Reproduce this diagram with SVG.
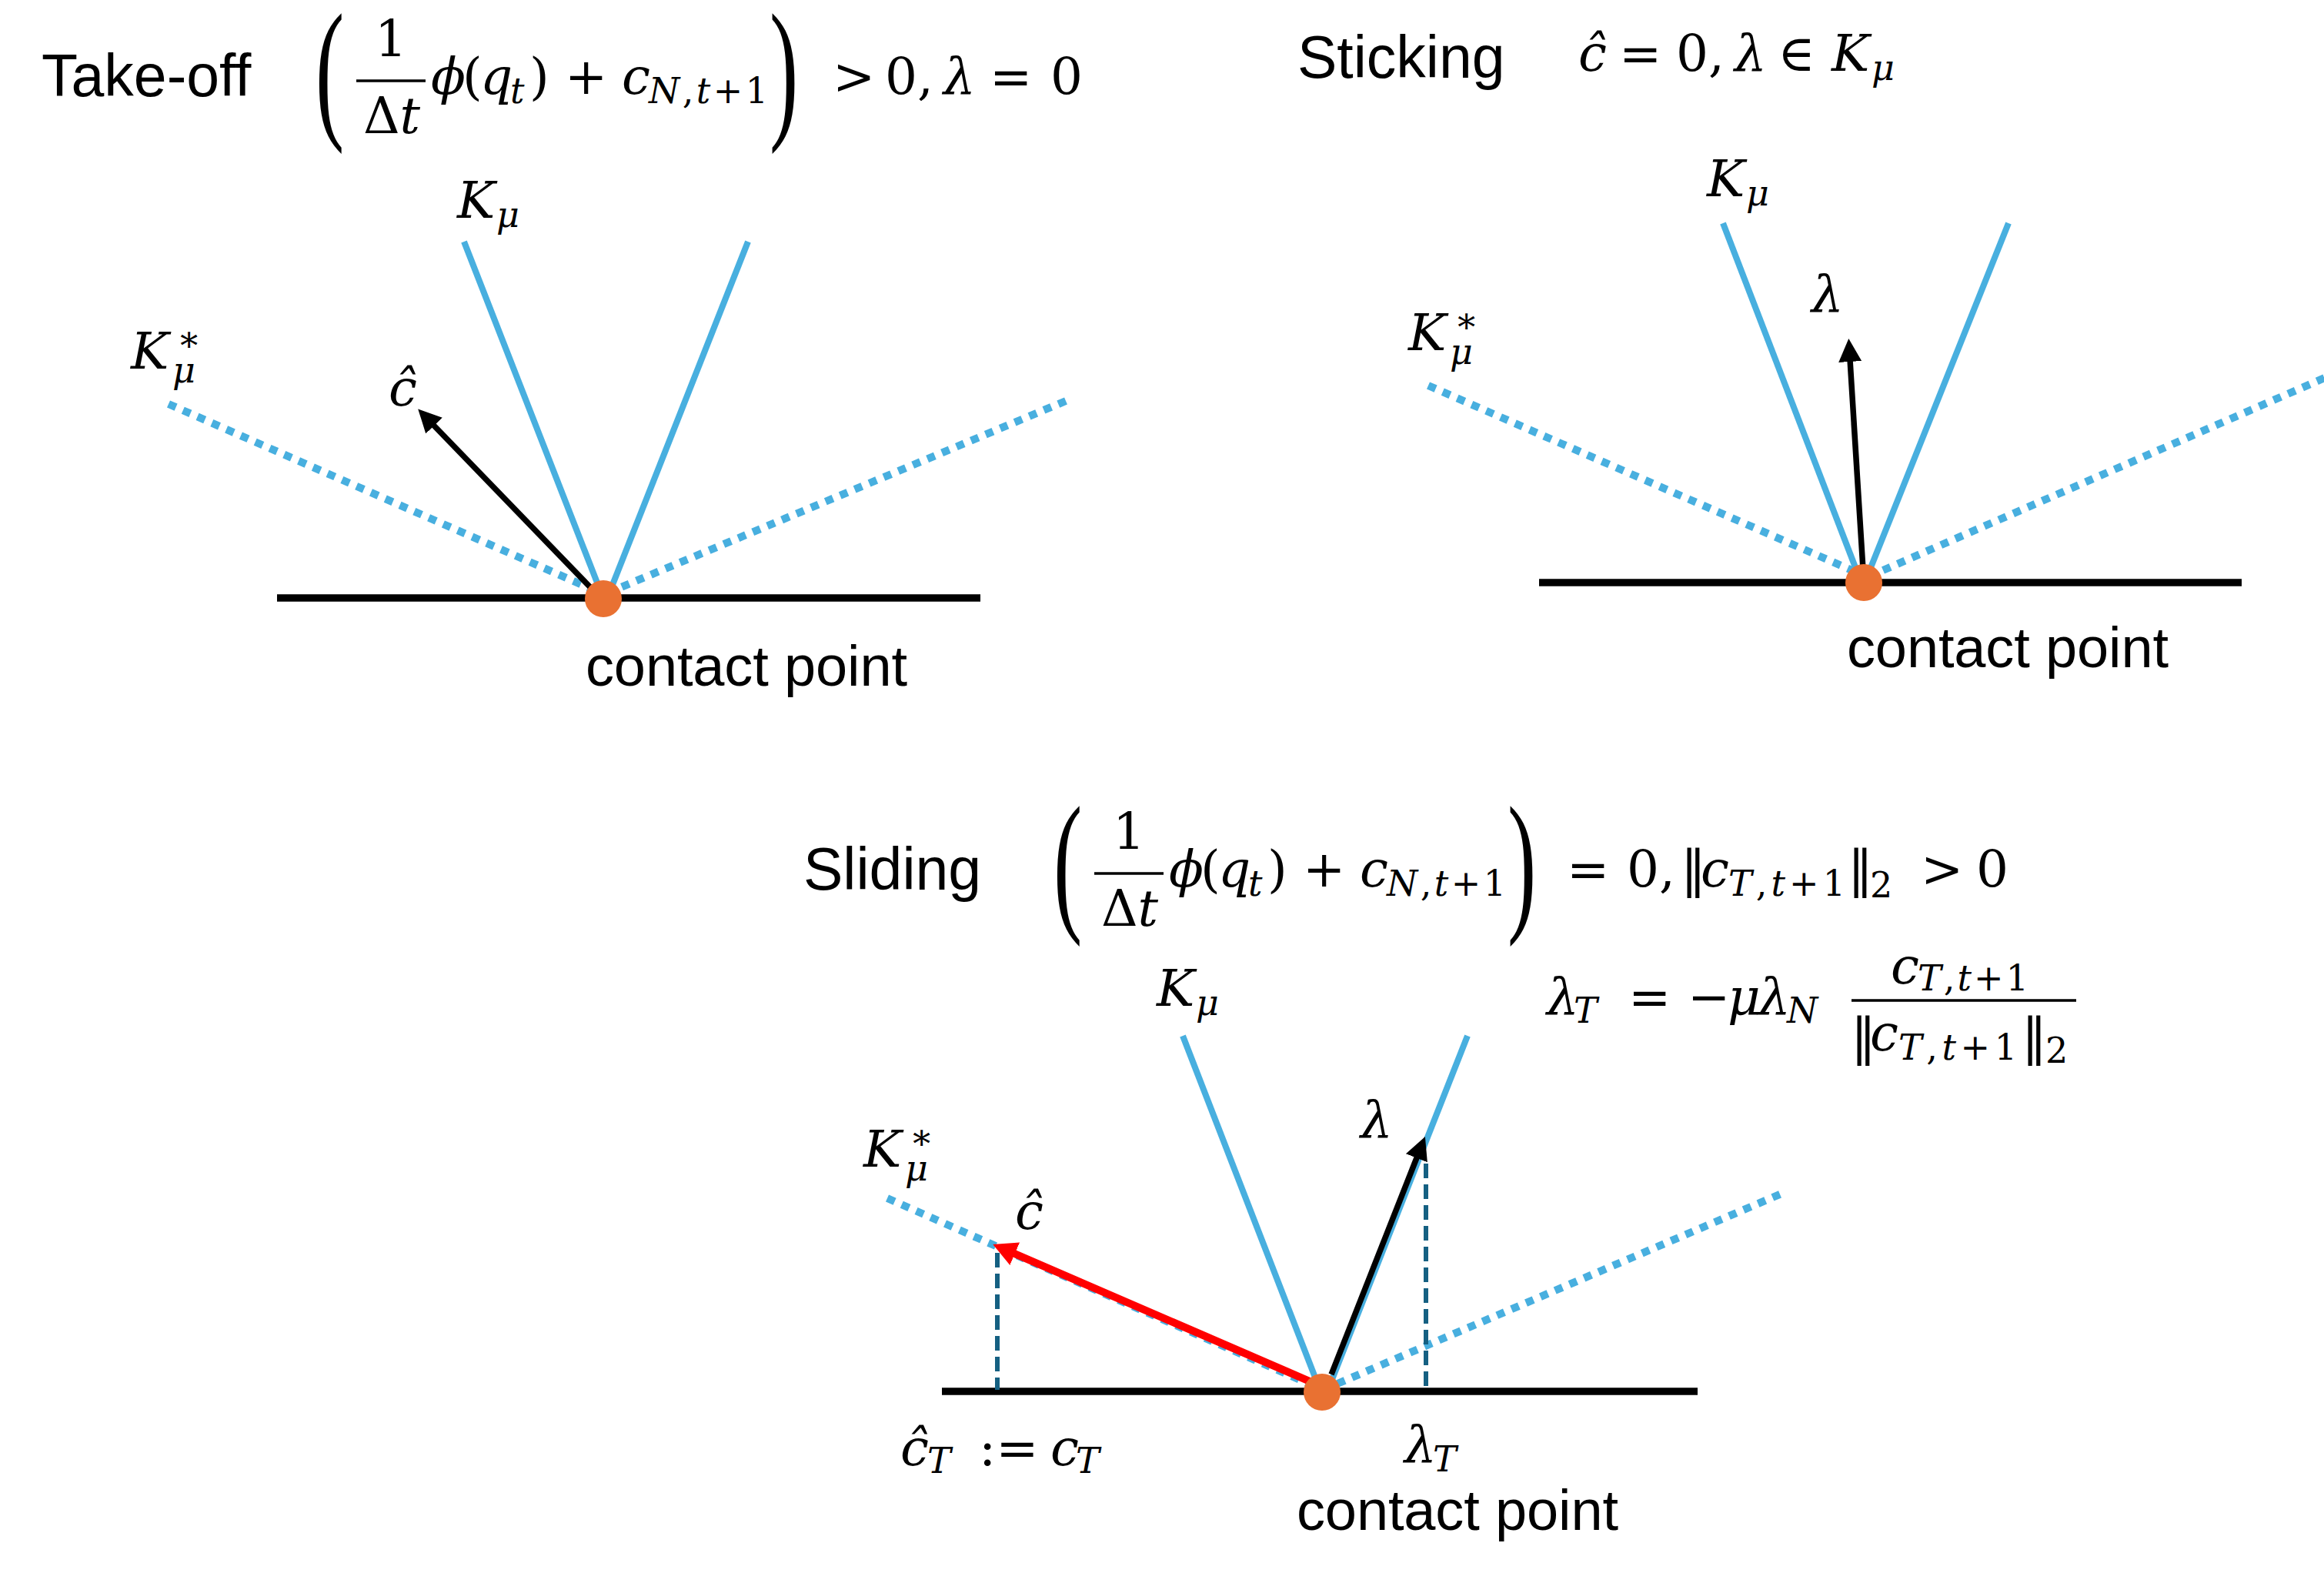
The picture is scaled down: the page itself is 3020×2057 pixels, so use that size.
<svg xmlns="http://www.w3.org/2000/svg" width="3020" height="2057" viewBox="0 0 3020 2057">
<defs>
<style>
.sans{font-family:"Liberation Sans",Arial,sans-serif;font-size:77px;fill:#000}
.cp{font-family:"Liberation Sans",Arial,sans-serif;font-size:74px;fill:#000}
.m{font-family:"DejaVu Serif","Liberation Serif",serif;font-size:66px;fill:#000}
.p{font-family:"Liberation Serif","DejaVu Serif",serif;font-size:70px;fill:#000}
.s{font-size:46px}
.i{font-style:italic}
.ground{stroke:#000;stroke-width:9.5;fill:none}
.cone{stroke:#48AFDF;stroke-width:8;fill:none}
.dual{stroke:#48AFDF;stroke-width:10;stroke-dasharray:10.5 10;fill:none}
.vec{stroke:#000;stroke-width:7.5;fill:none}
.red{stroke:#FF0000;stroke-width:10;fill:none}
.proj{stroke:#156082;stroke-width:6;stroke-dasharray:19 8;fill:none}
.bar{stroke:#000;stroke-width:3.5}
.dot{fill:#E97132}
</style>
<marker id="ah" markerUnits="userSpaceOnUse" markerWidth="34" markerHeight="34" viewBox="0 -17 34 34" refX="3" refY="0" orient="auto"><path d="M0,-15 L30,0 L0,15 z" fill="#000"/></marker>
<marker id="ahr" markerUnits="userSpaceOnUse" markerWidth="36" markerHeight="36" viewBox="0 -18 36 36" refX="3" refY="0" orient="auto"><path d="M0,-16 L31,0 L0,16 z" fill="#FF0000"/></marker>
</defs>
<rect width="3020" height="2057" fill="#fff"/>

<!-- Panel 1: Take-off -->
<g id="takeoff">
<text class="sans" x="54" y="125">Take-off</text>
<g id="takeoff-formula" class="m">
<text class="p" transform="translate(410,156.5) scale(1.6,2.87)">(</text>
<text x="508" y="73" text-anchor="middle">1</text>
<line class="bar" x1="463" y1="105" x2="553" y2="105"/>
<text x="509" y="173" text-anchor="middle">Δ<tspan class="i">t</tspan></text>
<text y="122"><tspan class="i" x="560">ϕ</tspan><tspan x="601">(</tspan><tspan class="i" x="624">q</tspan><tspan class="i s" x="663" y="134">t</tspan><tspan x="688" y="122">)</tspan><tspan x="734">+</tspan><tspan class="i" x="808">c</tspan></text>
<text class="s" x="843" y="134" textLength="155"><tspan class="i">N</tspan>,<tspan class="i">t</tspan>+1</text>
<text class="p" transform="translate(1000,156.5) scale(1.6,2.87)">)</text>
<text y="122"><tspan x="1082">&gt;</tspan><tspan x="1150">0,</tspan><tspan class="i" x="1226">λ</tspan><tspan x="1286">=</tspan><tspan x="1365">0</tspan></text>
</g>
<line class="ground" x1="360" y1="777" x2="1274" y2="777"/>
<line class="dual" x1="219" y1="525" x2="775" y2="768"/>
<line class="dual" x1="1385" y1="521" x2="800" y2="766"/>
<line class="cone" x1="603" y1="314" x2="781" y2="770"/>
<line class="cone" x1="972" y1="314" x2="792" y2="770"/>
<line class="vec" x1="767" y1="763" x2="562" y2="551" marker-end="url(#ah)"/>
<circle class="dot" cx="784" cy="778" r="24"/>
<text class="m i"><tspan x="594" y="283">K</tspan><tspan class="s" x="645" y="295">μ</tspan></text>
<text class="m i"><tspan x="170" y="479">K</tspan><tspan class="s" style="font-style:normal" x="230" y="456">∗</tspan><tspan class="s" x="224" y="497">μ</tspan></text>
<text class="m i" x="505" y="527">ĉ</text>
<text class="cp" x="761" y="891" textLength="418">contact point</text>
</g>

<!-- Panel 2: Sticking -->
<g id="sticking">
<text class="sans" x="1686" y="101">Sticking</text>
<text id="sticking-formula" class="m" y="92"><tspan class="i" x="2051">ĉ</tspan><tspan x="2104">=</tspan><tspan x="2178">0,</tspan><tspan class="i" x="2254">λ</tspan><tspan x="2310">∈</tspan><tspan class="i" x="2380">K</tspan><tspan class="i s" x="2432" y="104">μ</tspan></text>
<line class="ground" x1="2000" y1="757" x2="2913" y2="757"/>
<line class="dual" x1="1856" y1="501" x2="2411" y2="743"/>
<line class="dual" x1="2447" y1="741" x2="3030" y2="487"/>
<line class="cone" x1="2239" y1="290" x2="2414" y2="745"/>
<line class="cone" x1="2610" y1="290" x2="2428" y2="745"/>
<line class="vec" x1="2421" y1="740" x2="2404" y2="467" marker-end="url(#ah)"/>
<circle class="dot" cx="2422" cy="757" r="24"/>
<text class="m i"><tspan x="2218" y="255">K</tspan><tspan class="s" x="2269" y="267">μ</tspan></text>
<text class="m i"><tspan x="1830" y="455">K</tspan><tspan class="s" style="font-style:normal" x="1890" y="432">∗</tspan><tspan class="s" x="1884" y="473">μ</tspan></text>
<text class="m i" x="2354" y="405">λ</text>
<text class="cp" x="2400" y="867" textLength="418">contact point</text>
</g>

<!-- Panel 3: Sliding -->
<g id="sliding">
<text class="sans" x="1044" y="1156">Sliding</text>
<g id="sliding-formula" class="m">
<g transform="translate(959,1030)">
<text class="p" transform="translate(410,156.5) scale(1.6,2.87)">(</text>
<text x="508" y="73" text-anchor="middle">1</text>
<line class="bar" x1="463" y1="105" x2="553" y2="105"/>
<text x="509" y="173" text-anchor="middle">Δ<tspan class="i">t</tspan></text>
<text y="122"><tspan class="i" x="560">ϕ</tspan><tspan x="601">(</tspan><tspan class="i" x="624">q</tspan><tspan class="i s" x="663" y="134">t</tspan><tspan x="688" y="122">)</tspan><tspan x="734">+</tspan><tspan class="i" x="808">c</tspan></text>
<text class="s" x="843" y="134" textLength="155"><tspan class="i">N</tspan>,<tspan class="i">t</tspan>+1</text>
<text class="p" transform="translate(1000,156.5) scale(1.6,2.87)">)</text>
</g>
<text y="1152"><tspan x="2036">=</tspan><tspan x="2114">0,</tspan><tspan x="2184">‖</tspan><tspan class="i" x="2210">c</tspan></text>
<text class="s" x="2246" y="1164" textLength="152"><tspan class="i">T</tspan>,<tspan class="i">t</tspan>+1</text>
<text y="1152"><tspan x="2401">‖</tspan><tspan class="s" x="2430" y="1166">2</tspan><tspan x="2496" y="1152">&gt;</tspan><tspan x="2568">0</tspan></text>
</g>
<g id="lambdaT-formula" class="m">
<text y="1318"><tspan class="i" x="2010">λ</tspan><tspan class="i s" x="2045" y="1329">T</tspan><tspan x="2116" y="1318">=</tspan><tspan x="2193">−</tspan><tspan class="i" x="2245">μ</tspan><tspan class="i" x="2285">λ</tspan><tspan class="i s" x="2322" y="1329">N</tspan></text>
<line class="bar" x1="2406" y1="1300" x2="2698" y2="1300"/>
<text class="i" x="2457" y="1278">c</text>
<text class="s" x="2492" y="1287" textLength="144"><tspan class="i">T</tspan>,<tspan class="i">t</tspan>+1</text>
<text y="1370"><tspan x="2405">‖</tspan><tspan class="i" x="2430" y="1365">c</tspan></text>
<text class="s" x="2467" y="1377" textLength="154"><tspan class="i">T</tspan>,<tspan class="i">t</tspan>+1</text>
<text y="1370"><tspan x="2627">‖</tspan><tspan class="s" x="2658" y="1381">2</tspan></text>
</g>
<line class="ground" x1="1224" y1="1808" x2="2206" y2="1808"/>
<line class="dual" x1="1153" y1="1557" x2="1705" y2="1800"/>
<line class="dual" x1="1738" y1="1798" x2="2315" y2="1551"/>
<line class="cone" x1="1537" y1="1346" x2="1711" y2="1795"/>
<line class="cone" x1="1907" y1="1346" x2="1730" y2="1795"/>
<line class="proj" x1="1296" y1="1628" x2="1296" y2="1806"/>
<line class="proj" x1="1853" y1="1512" x2="1853" y2="1808"/>
<line class="red" x1="1702" y1="1795" x2="1316" y2="1628" marker-end="url(#ahr)"/>
<line class="vec" x1="1730" y1="1786" x2="1842" y2="1502" marker-end="url(#ah)"/>
<circle class="dot" cx="1718" cy="1809" r="24"/>
<text class="m i"><tspan x="1503" y="1307">K</tspan><tspan class="s" x="1554" y="1319">μ</tspan></text>
<text class="m i"><tspan x="1122" y="1516">K</tspan><tspan class="s" style="font-style:normal" x="1182" y="1493">∗</tspan><tspan class="s" x="1176" y="1534">μ</tspan></text>
<text class="m i" x="1319" y="1597">ĉ</text>
<text class="m i" x="1768" y="1478">λ</text>
<text class="m"><tspan class="i" x="1170" y="1904">ĉ</tspan><tspan class="i s" x="1205" y="1914">T</tspan><tspan x="1272" y="1904">:=</tspan><tspan class="i" x="1365">c</tspan><tspan class="i s" x="1398" y="1914">T</tspan></text>
<text class="m"><tspan class="i" x="1825" y="1900">λ</tspan><tspan class="i s" x="1862" y="1912">T</tspan></text>
<text class="cp" x="1685" y="1988" textLength="418">contact point</text>
</g>
</svg>
